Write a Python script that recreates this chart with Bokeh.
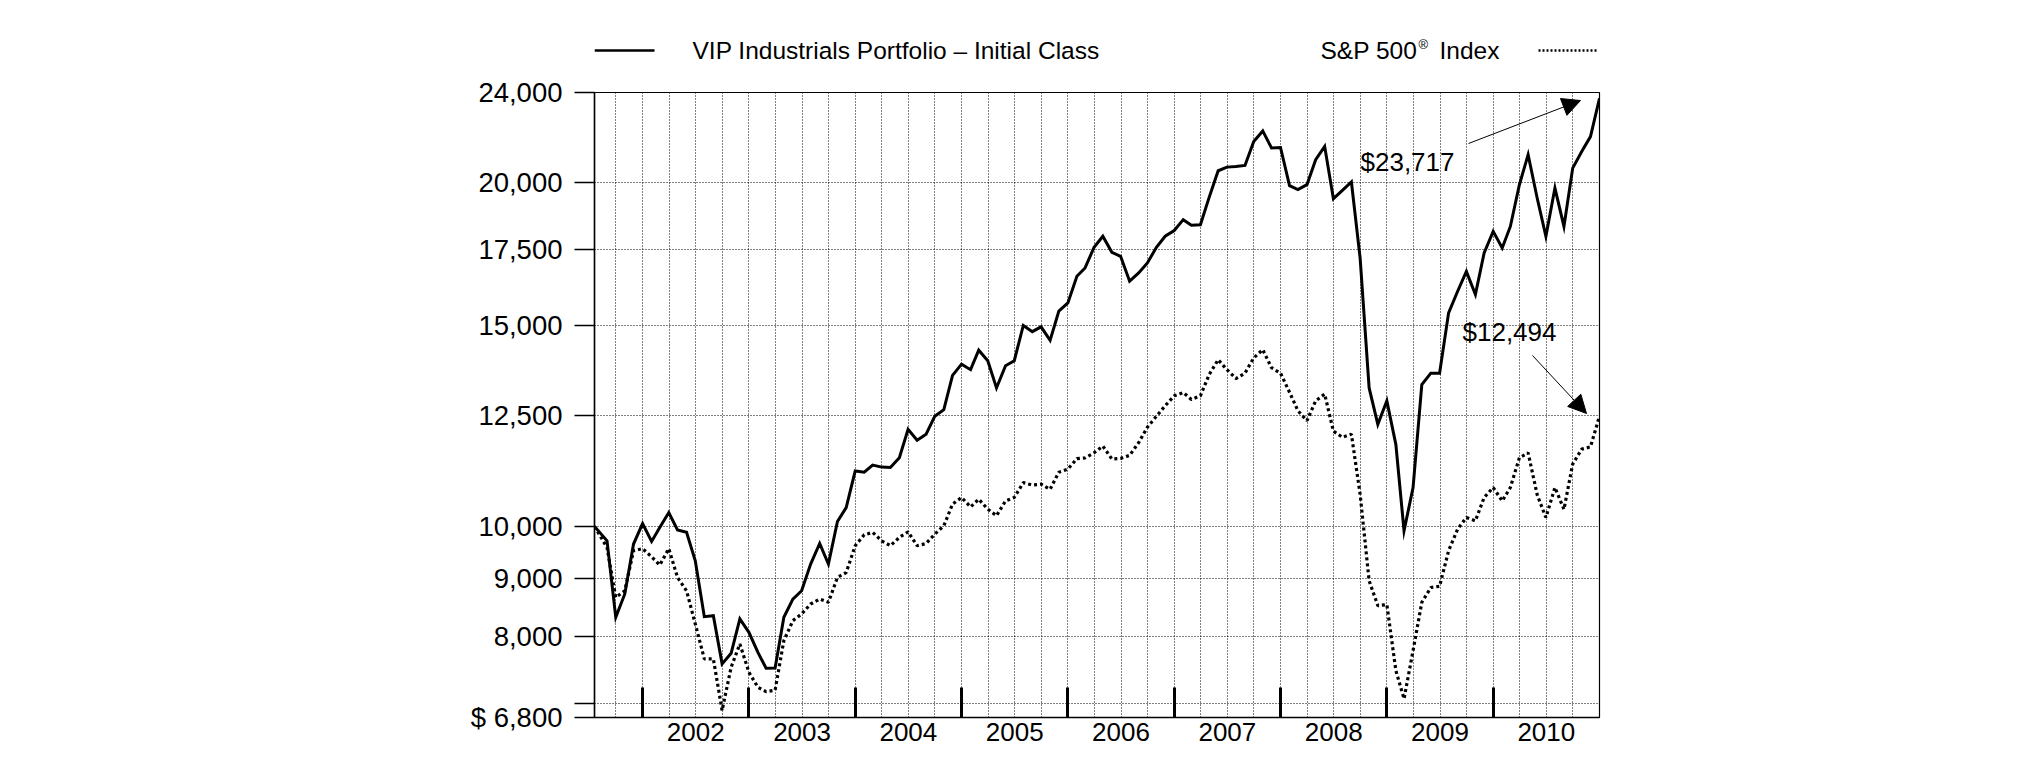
import pandas as pd
from bokeh.plotting import figure
from bokeh.layouts import column
from bokeh.models import Range1d, FixedTicker, CustomJSTickFormatter, Label, Arrow, NormalHead
from bokeh.core.properties import value
from bokeh.embed import file_html
from bokeh.resources import INLINE

# ---------------- data ----------------
start_date = "2001-07-19"
month_ends = list(pd.date_range("2001-08-31", "2010-12-31", freq="ME"))

fund_name = "VIP Industrials Portfolio \u2013 Initial Class"
index_name = "S&P 500"

fund = [10000,
        9713, 8323, 8725, 9650, 10057,
        9700, 9977, 10284, 9927, 9880, 9330, 8335, 8350, 7577, 7740, 8297, 8075,
        7756, 7510, 7515, 8323, 8636, 8782, 9268, 9660, 9268, 10098, 10387, 11184,
        11155, 11317, 11270, 11260, 11485, 12162, 11900, 12043, 12489, 12657, 13563, 13874,
        13719, 14270, 13970, 13222, 13830, 13970, 15000, 14812, 14958, 14555, 15441, 15697,
        16566, 16845, 17563, 17957, 17386, 17246, 16400, 16675, 17015, 17563, 17957, 18165,
        18569, 18360, 18380, 19424, 20495, 20645, 20675, 20717, 21740, 22210, 21455, 21480,
        19887, 19727, 19927, 20955, 21525, 19372, 19700, 20035, 17186, 13222, 12285, 12883,
        11794, 9911, 10815, 13311, 13623, 13623, 15386, 16070, 16730, 15966, 17364, 18135,
        17537, 18316, 19925, 21170, 19400, 17957, 19790, 18316, 20604, 21310, 21957, 23717]

spx = [10000,
       9582, 8664, 8782, 9520, 9560,
       9404, 9250, 9560, 9021, 8782, 8212, 7654, 7654, 6897, 7525, 7888, 7450,
       7228, 7165, 7185, 7941, 8267, 8380, 8550, 8636, 8580, 9021, 9110, 9617,
       9831, 9880, 9713, 9617, 9780, 9891, 9617, 9660, 9845, 10012, 10460, 10600,
       10400, 10564, 10354, 10217, 10526, 10600, 10923, 10870, 10890, 10777, 11155, 11224,
       11463, 11480, 11600, 11760, 11455, 11470, 11540, 11840, 12215, 12489, 12755, 13013,
       13100, 12920, 13013, 13585, 13998, 13719, 13476, 13623, 14049, 14284, 13773, 13623,
       13107, 12627, 12377, 12883, 13060, 12118, 11970, 12043, 10671, 8961, 8521, 8540,
       7475, 7061, 7783, 8578, 8840, 8860, 9520, 9945, 10180, 10112, 10600, 10815,
       10526, 10815, 11485, 11600, 10660, 10180, 10815, 10350, 11340, 11686, 11740, 12494]

y_ticks = [6800, 7000, 8000, 9000, 10000, 12500, 15000, 17500, 20000, 24000]
years = list(range(2002, 2011))


def frac_year(d):
    d = pd.Timestamp(d)
    return d.year + d.dayofyear / (366 if d.is_leap_year else 365)


x = [frac_year(start_date)] + [frac_year(d) for d in month_ends]

XS, XE = x[0], 2011.0
YLO, YHI = y_ticks[0], y_ticks[-1]

FONT = "Liberation Sans"
W = 2025
LEG_H = 70
MAIN_H = 691
# page-pixel layout of the frame (style only)
FL, FR, FT, FB = 594, 1599, 92, 717


def tx(px):
    return XS + (px - FL) / (FR - FL) * (XE - XS)


def vy(py):
    return YLO * (YHI / YLO) ** ((FB - py) / (FB - FT))


# ---------------- legend strip (frame aligned with the chart frame) ----------------
lg = figure(width=W, height=LEG_H, x_range=Range1d(FL, FR), y_range=Range1d(LEG_H, 0),
            output_backend="svg", toolbar_location=None,
            min_border_left=FL, min_border_right=W - FR, min_border_top=0, min_border_bottom=0,
            outline_line_color=None)
lg.axis.visible = False
lg.grid.visible = False
lg.background_fill_color = "white"
lg.border_fill_color = "white"

lg.line([FL, 654], [50, 50], line_color="black", line_width=2.5)
lg.line([1538, 1598], [50, 50], line_color="black", line_width=2.5, line_dash="2 2")
lg.text(x=[692], y=[50], text=[fund_name], text_font=value(FONT), text_font_size="24.5px",
        text_baseline="middle", text_align="left", text_color="black")
lg.text(x=[1320], y=[50], text=[index_name], text_font=value(FONT), text_font_size="24.5px",
        text_baseline="middle", text_align="left", text_color="black")
lg.text(x=[1418], y=[44], text=["\u00ae"], text_font=value(FONT), text_font_size="13px",
        text_baseline="middle", text_align="left", text_color="black")
lg.text(x=[1499], y=[50], text=["Index"], text_font=value(FONT), text_font_size="24.5px",
        text_baseline="middle", text_align="right", text_color="black")

# ---------------- main chart ----------------
p = figure(width=W, height=MAIN_H,
           x_range=Range1d(XS, XE), y_range=Range1d(YLO, YHI),
           y_axis_type="log", output_backend="svg", toolbar_location=None,
           min_border_left=FL, min_border_right=W - FR,
           min_border_top=FT - LEG_H, min_border_bottom=LEG_H + MAIN_H - FB)
p.background_fill_color = "white"
p.border_fill_color = "white"
p.outline_line_color = "black"
p.outline_line_width = 1.2

xa = p.xaxis[0]
xa.ticker = FixedTicker(ticks=[y + 0.5 for y in years], minor_ticks=years)
xa.formatter = CustomJSTickFormatter(code="return String(Math.floor(tick));")
xa.major_tick_in = 0
xa.major_tick_out = 0
xa.minor_tick_in = 30
xa.minor_tick_out = 0
xa.minor_tick_line_width = 3
xa.minor_tick_line_color = "black"
xa.axis_line_width = 1.5
xa.axis_line_color = "black"
xa.major_label_text_font = FONT
xa.major_label_text_font_size = "26px"
xa.major_label_text_color = "black"
xa.major_label_standoff = 5

ya = p.yaxis[0]
ya.ticker = FixedTicker(ticks=y_ticks)
ya.formatter = CustomJSTickFormatter(code=r"""
const v = Math.round(tick);
if (v == 7000) return "";
const s = v.toString().replace(/\B(?=(\d{3})+(?!\d))/g, ",");
return v == 6800 ? "$ " + s : s;
""")
ya.major_tick_in = 0
ya.major_tick_out = 20
ya.major_tick_line_width = 1.5
ya.minor_tick_in = 0
ya.minor_tick_out = 0
ya.axis_line_width = 1.5
ya.axis_line_color = "black"
ya.major_label_standoff = 12
ya.major_label_text_font = FONT
ya.major_label_text_font_size = "27.5px"
ya.major_label_text_color = "black"

quarters = [yy + q / 4 for yy in range(2001, 2011) for q in range(4)]
quarters = [q for q in quarters if XS < q < XE]
p.xgrid.ticker = FixedTicker(ticks=quarters)
p.ygrid.ticker = FixedTicker(ticks=y_ticks[1:-1])
for g in (p.xgrid[0], p.ygrid[0]):
    g.grid_line_color = "black"
    g.grid_line_width = 1
    g.grid_line_dash = "1 2"
    g.grid_line_alpha = 1.0

p.line(x, spx, line_color="black", line_width=3.2, line_dash="3 3")
p.line(x, fund, line_color="black", line_width=3, line_join="miter")


def lab(text, px, py, size="26px", align="left"):
    p.add_layout(Label(x=tx(px), y=vy(py), text=text, text_font=FONT,
                       text_font_size=size, text_color="black",
                       text_baseline="middle", text_align=align))


def arrow(p0, p1):
    p.add_layout(Arrow(x_start=tx(p0[0]), y_start=vy(p0[1]),
                       x_end=tx(p1[0]), y_end=vy(p1[1]),
                       end=NormalHead(size=18, fill_color="black", line_color="black", line_width=1),
                       line_color="black", line_width=1))


lab(f"${fund[-1]:,}", 1360, 161)
arrow((1468, 143), (1580, 100))
lab(f"${spx[-1]:,}", 1462, 331)
arrow((1532, 355), (1586, 413))

open("out.html", "w").write(file_html(column(lg, p), INLINE))
